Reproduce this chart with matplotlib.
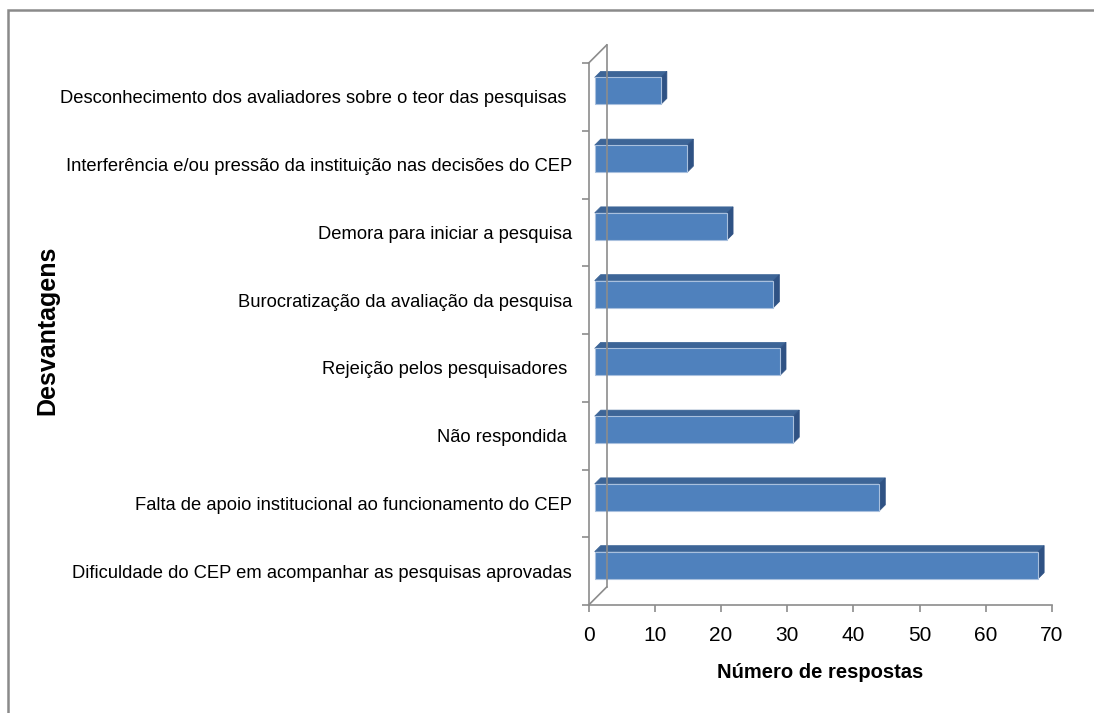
import matplotlib.pyplot as plt
from matplotlib.patches import Polygon, Rectangle

# Dados do gráfico (de baixo para cima)
categorias = [
    "Dificuldade do CEP em acompanhar as pesquisas aprovadas",
    "Falta de apoio institucional ao funcionamento do CEP",
    "Não respondida ",
    "Rejeição pelos pesquisadores ",
    "Burocratização da avaliação da pesquisa",
    "Demora para iniciar a pesquisa",
    "Interferência e/ou pressão da instituição nas decisões do CEP",
    "Desconhecimento dos avaliadores sobre o teor das pesquisas ",
]
respostas = [67, 43, 30, 28, 27, 20, 14, 10]
x_ticks = [0, 10, 20, 30, 40, 50, 60, 70]

fonte = 'Liberation Sans'

W, H = 1094, 713
fig = plt.figure(figsize=(W / 100, H / 100), dpi=100)

# moldura cinza
fig.patches.append(Rectangle((8 / W, -0.05), 1.2, 1 - 10 / H + 0.05, transform=fig.transFigure,
                             fill=False, edgecolor='#8a8a8a', linewidth=1.8))

left, right, top, bottom = 588.7, 1052, 63, 605
ax = fig.add_axes([left / W, (H - bottom) / H, (right - left) / W, (bottom - top) / H])
ax.set_xlim(0, 70)
ax.set_ylim(0, len(categorias))
for s in ax.spines.values():
    s.set_visible(False)
ax.patch.set_visible(False)

# profundidade do efeito 3D (em pixels -> unidades de dados)
px_x = (right - left) / 70
px_y = (bottom - top) / len(categorias)
dx = 18 / px_x
dy = 18 / px_y
cinza = '#8c8c8c'

# paredes / eixos
ax.plot([0, 0], [0, len(categorias)], color=cinza, lw=1.2, clip_on=False)
ax.plot([dx, dx], [dy, len(categorias) + dy], color=cinza, lw=1.2, clip_on=False)
ax.plot([0, dx], [len(categorias), len(categorias) + dy], color=cinza, lw=1.2, clip_on=False)
ax.plot([0, dx], [0, dy], color=cinza, lw=1.2, clip_on=False)
ax.plot([0, 70], [0, 0], color=cinza, lw=1.2, clip_on=False)

# barras 3D
h = 27 / px_y
ox, oy = dx / 3, dy / 3
for i, v in enumerate(respostas):
    y0 = i + 0.5 - h / 2 + oy
    y1 = i + 0.5 + h / 2 + oy
    x0, x1 = ox, v + ox
    ax.add_patch(Polygon([(x0, y1), (x1, y1), (x1 + ox, y1 + oy), (x0 + ox, y1 + oy)],
                         closed=True, facecolor='#3d6597', edgecolor='#3d6597', lw=0.5, clip_on=False))
    ax.add_patch(Polygon([(x1, y0), (x1 + ox, y0 + oy), (x1 + ox, y1 + oy), (x1, y1)],
                         closed=True, facecolor='#2f5284', edgecolor='#2f5284', lw=0.5, clip_on=False))
    ax.barh(i + 0.5 + oy, v, height=h, left=x0, color='#4f81bd',
            edgecolor='#a9c0de', linewidth=0.8, clip_on=False)

# eixos e rótulos
ax.set_xticks(x_ticks)
ax.set_xticklabels([str(t) for t in x_ticks], fontsize=15, family=fonte)
ax.tick_params(axis='x', length=5, color=cinza, width=1.2, pad=10)
ax.set_yticks([i + 0.5 for i in range(len(categorias))])
ax.set_yticklabels(categorias, fontsize=13.2, family=fonte)
ax.set_yticks(range(len(categorias) + 1), minor=True)
ax.tick_params(axis='y', which='major', length=0, pad=12)
ax.tick_params(axis='y', which='minor', length=5, color=cinza, width=1.2)

fig.text(820 / W, 1 - 673 / H, "Número de respostas", fontsize=14.5, fontweight='bold',
         family=fonte, ha='center', va='center')
fig.text(47 / W, 1 - 330 / H, "Desvantagens", fontsize=18, fontweight='bold',
         family=fonte, rotation=90, ha='center', va='center')

fig.savefig('out.png', dpi=100)
